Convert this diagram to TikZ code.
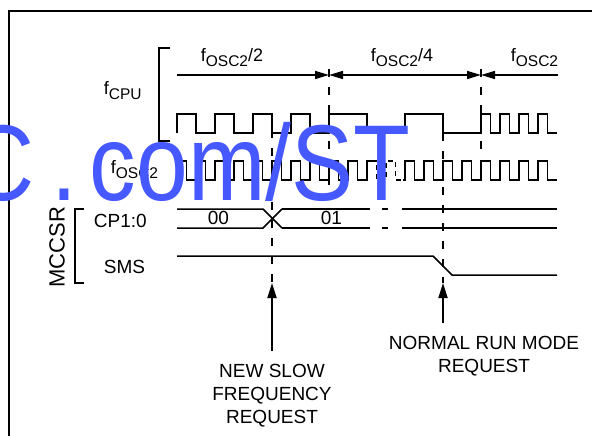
\documentclass[tikz,border=0pt]{standalone}
\usepackage{fontspec}
\setmainfont{Liberation Sans}
\usetikzlibrary{arrows.meta, positioning}
\definecolor{wmblue}{HTML}{4658FF}
\newcommand{\lowtxt}[1]{\raisebox{-5pt}{\fontsize{15.5}{16}\selectfont #1}}

\begin{document}
\begin{tikzpicture}[
    x=1pt, y=-1pt, line width=1.8pt,
    wave/.style={line width=1.8pt, line join=miter},
    bus/.style={line width=1.5pt},
    marker/.style={line width=1.8pt, dash pattern=on 8pt off 10pt},
    span/.style={line width=1.5pt},
    lbl/.style={font=\fontsize{19}{23}\selectfont, inner sep=0pt},
    freq/.style={font=\fontsize{18}{20}\selectfont, inner sep=0pt, anchor=base west},
    req/.style={-{Triangle[length=15pt,width=9pt]}, line width=1.8pt, shorten <=13pt}
]
\useasboundingbox (0,0) rectangle (592,436);

% Frame
\draw[line width=2pt] (9,436) -- (9,11) -- (592,11);

% Phase markers
\coordinate (t0) at (177,75);
\coordinate (t1) at (329,75);
\coordinate (t2) at (481,75);
\coordinate (t3) at (558,75);
\coordinate (d1) at (329,190);
\coordinate (d2) at (481,150);
\coordinate (slowtop) at (272,130);
\coordinate (slowtip) at (272,283);
\coordinate (normtop) at (443,133);
\coordinate (normtip) at (443,283);

\draw[span, -{Triangle[length=14pt,width=8pt]}] (t0) -- (t1);
\draw[span, {Triangle[length=14pt,width=8pt]}-{Triangle[length=14pt,width=8pt]}] (t1) -- (t2);
\draw[span, {Triangle[length=14pt,width=8pt]}-] (t2) -- (t3);

\node[freq] (div2) at (200,62) {f\lowtxt{OSC2}/2};
\node[freq] (div4) at (370,62) {f\lowtxt{OSC2}/4};
\node[freq] (div1) at (510,62) {f\lowtxt{OSC2}};

\draw[marker] ([yshift=6pt]t1) -- (d1);
\draw[marker] ([yshift=6pt]t2) -- (d2);
\draw[marker] (slowtop) -- (slowtip);
\draw[marker] (normtop) -- (normtip);

% Clock rows
\node[freq] (fcpu) at (103,95) {f\lowtxt{CPU}};
\node[freq] (fosc) at (110,173) {f\lowtxt{OSC2}};
\draw (170,48) -- (159,48) -- (159,141) -- (170,141);

\begin{scope}
  \clip (0,0) rectangle (372,436) (403,0) rectangle (592,436);
  \draw[wave] (177,133)
    foreach \k in {1,...,4} {-- ++(0,-19) -- ++(19,0) -- ++(0,19) -- ++(19,0)}
    foreach \k in {1,2} {-- ++(0,-19) -- ++(38,0) -- ++(0,19) -- ++(38,0)}
    foreach \k in {1,...,4} {-- ++(0,-19) -- ++(9.5,0) -- ++(0,19) -- ++(9.5,0)};
  \draw[wave] (177,180)
    foreach \k in {1,...,20} {-- ++(0,-19) -- ++(9.5,0) -- ++(0,19) -- ++(9.5,0)};
\end{scope}
\begin{scope}
  \clip (372,90) rectangle (403,200);
  \draw[wave, dash pattern=on 5pt off 5pt] (367,133) -- (405,133);
  \draw[wave, dash pattern=on 5pt off 4pt] (177,180)
    foreach \k in {1,...,20} {-- ++(0,-19) -- ++(9.5,0) -- ++(0,19) -- ++(9.5,0)};
\end{scope}

% Register rows
\node[lbl, anchor=base west] (cp) at (93,227) {CP1:0};
\node[lbl, anchor=base west] (sms) at (103,273) {SMS};
\node[lbl, font=\fontsize{22}{24}\selectfont, rotate=90] (mccsr) at (57,247) {MCCSR};
\draw (84,209) -- (75,209) -- (75,283) -- (84,283);

\draw[bus] (177,209) -- (263,209) -- (282,228);
\draw[bus] (177,228) -- (263,228) -- (282,209);
\foreach \y in {209,228} {
  \draw[bus] (282,\y) -- (370,\y);
  \draw[bus] (382,\y) -- (388,\y);
  \draw[bus] (402,\y) -- (557,\y);
}
\node[lbl, anchor=base west] (cpold) at (207,224) {00};
\node[lbl, anchor=base west] (cpnew) at (320,224) {01};
\draw[bus] (177,256) -- (433,256) -- (452,275) -- (557,275);

% Requests
\node[lbl, align=center] (slowreq) at (272,396) {NEW SLOW\\FREQUENCY\\REQUEST};
\node[lbl, align=center] (normreq) at (484,356) {NORMAL RUN MODE\\REQUEST};
\draw[req] (slowreq.north -| slowtip) -- (slowtip);
\draw[req, shorten <=12pt] (normreq.north -| normtip) -- (normtip);

% Watermark
\node[text=wmblue, font=\fontsize{93}{93}\selectfont, inner sep=0pt, anchor=base west]
  (wmark) at (-33,200) {\scalebox{1}[1.16]{C\kern16pt.\kern13pt com/ST}};
\end{tikzpicture}
\end{document}
